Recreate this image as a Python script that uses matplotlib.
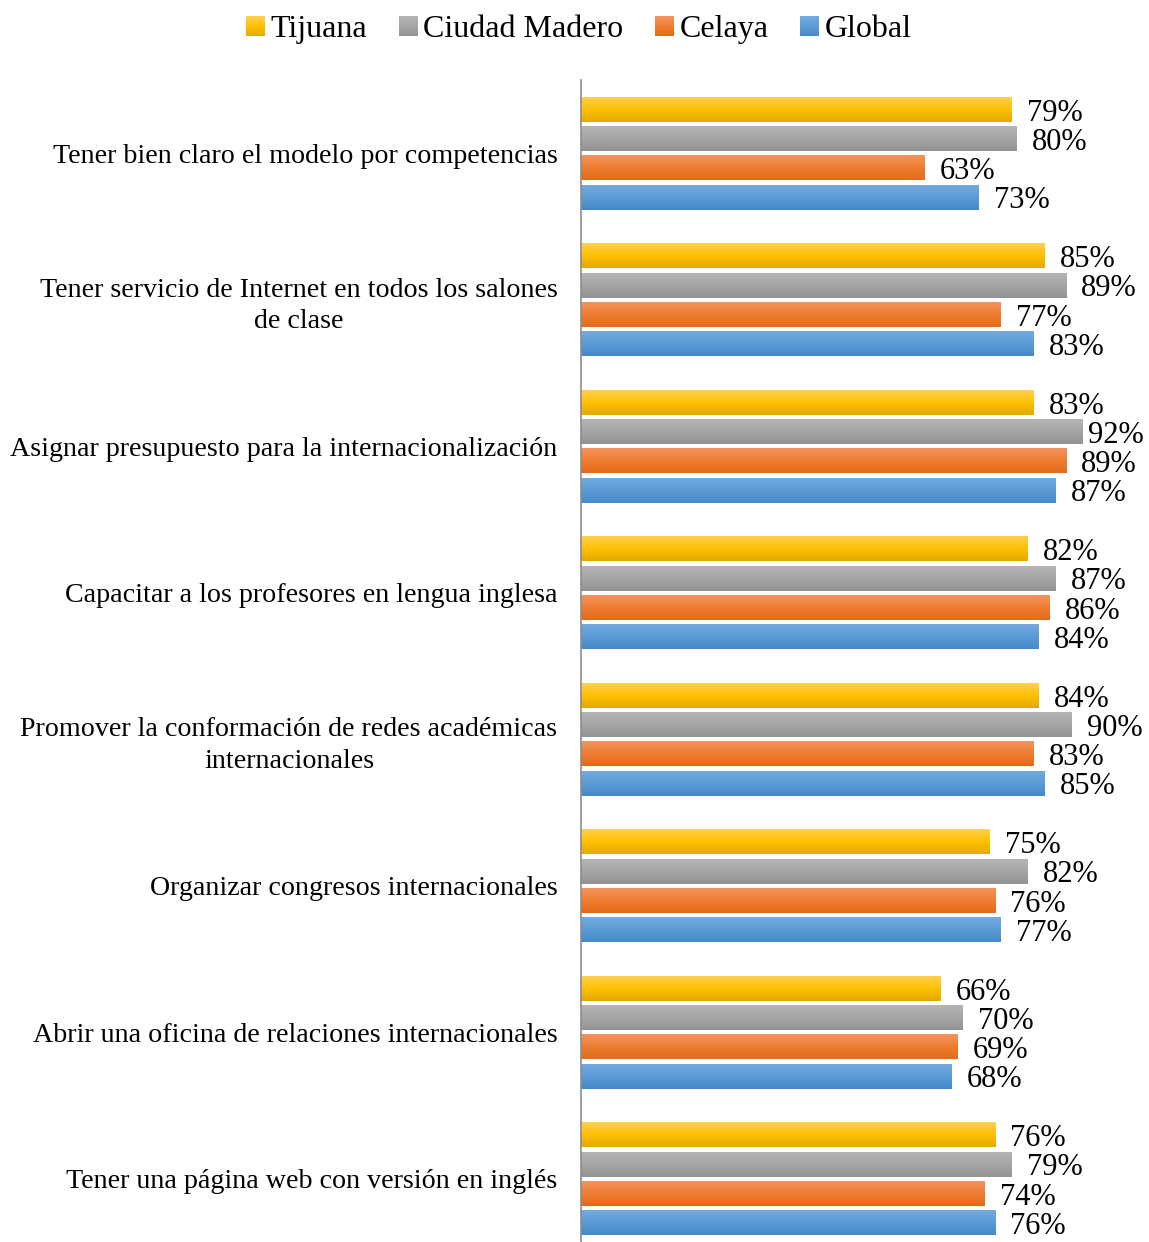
import numpy as np
import matplotlib.pyplot as plt
from matplotlib.colors import LinearSegmentedColormap
from matplotlib.patches import Rectangle
from matplotlib.legend_handler import HandlerBase

# --- Data ---
categories = [
    'Tener bien claro el modelo por competencias',
    'Tener servicio de Internet en todos los salones\nde clase',
    'Asignar presupuesto para la internacionalización',
    'Capacitar a los profesores en lengua inglesa',
    'Promover la conformación de redes académicas\ninternacionales',
    'Organizar congresos internacionales',
    'Abrir una oficina de relaciones internacionales',
    'Tener una página web con versión en inglés',
]
series_names = ['Tijuana', 'Ciudad Madero', 'Celaya', 'Global']
tijuana = [79, 85, 83, 82, 84, 75, 66, 76]
ciudad_madero = [80, 89, 92, 87, 90, 82, 70, 79]
celaya = [63, 77, 89, 86, 83, 76, 69, 74]
global_ = [73, 83, 87, 84, 85, 77, 68, 76]
series_values = [tijuana, ciudad_madero, celaya, global_]

# top / middle / bottom colours of each bar gradient
gradients = [
    ('#FFD050', '#FFC000', '#E3AA00'),
    ('#B4B4B4', '#A5A5A5', '#939393'),
    ('#F4945E', '#ED7D31', '#E46A1A'),
    ('#74AAE0', '#5B9BD5', '#4589C9'),
]
cmaps = [LinearSegmentedColormap.from_list(n, g[::-1]) for n, g in zip(series_names, gradients)]

plt.rcParams['font.family'] = ['Liberation Serif', 'DejaVu Serif']

fig = plt.figure(figsize=(11.49, 12.42), dpi=100)
ax = fig.add_axes([0.5057, -0.0081, 0.4743, 0.9436])

n_cat = len(categories)
step = 0.2
bar_h = 0.17
label_gap = 0.028
label_max = 0.93   # labels that would run off the right edge are pulled back
ramp = np.linspace(0, 1, 64).reshape(-1, 1)

for s, (vals, cmap) in enumerate(zip(series_values, cmaps)):
    for i, v in enumerate(vals):
        yc = i + (s - 1.5) * step
        frac = v / 100
        ax.barh(yc, frac, height=bar_h, color=cmap(0.5), edgecolor='none', zorder=2)
        ax.imshow(ramp, cmap=cmap, aspect='auto', origin='lower', zorder=3,
                  extent=(0, frac, yc + bar_h / 2, yc - bar_h / 2))
        ax.text(min(frac + label_gap, label_max), yc + 0.025, f'{v}%', va='center',
                ha='left', fontsize=22, color='black', zorder=4)

ax.set_xlim(0, 1)
ax.set_ylim(n_cat - 0.5, -0.5)
ax.set_yticks(range(n_cat))
ax.set_yticklabels(categories, fontsize=20.2)
for lab in ax.get_yticklabels():
    lab.set_multialignment('center')
    lab.set_linespacing(1.35)
ax.tick_params(axis='y', length=0, pad=17)
ax.set_xticks([])
for side in ['top', 'right', 'bottom']:
    ax.spines[side].set_visible(False)
ax.spines['left'].set_color('#8C8C8C')
ax.spines['left'].set_linewidth(1.2)
ax.spines['left'].set_zorder(5)


class GradientHandler(HandlerBase):
    def __init__(self, cmap):
        super().__init__()
        self.cmap = cmap

    def create_artists(self, legend, orig_handle, xdescent, ydescent,
                       width, height, fontsize, trans):
        side = height
        x0 = -xdescent + (width - side) / 2
        y0 = -ydescent
        arts = []
        n = 12
        for k in range(n):
            r = Rectangle((x0, y0 + side * k / n), side, side / n + 0.3,
                          facecolor=self.cmap((k + 0.5) / n), edgecolor='none',
                          transform=trans)
            arts.append(r)
        return arts


handles = [Rectangle((0, 0), 1, 1) for _ in series_names]
fig.legend(handles, series_names, loc='upper center', bbox_to_anchor=(0.504, 1.003),
           ncol=4, frameon=False, fontsize=23, handlelength=0.55, handleheight=0.55,
           handletextpad=0.2, columnspacing=1.0, borderaxespad=0.2,
           handler_map={h: GradientHandler(c) for h, c in zip(handles, cmaps)})

fig.savefig('out.png', dpi=100)
